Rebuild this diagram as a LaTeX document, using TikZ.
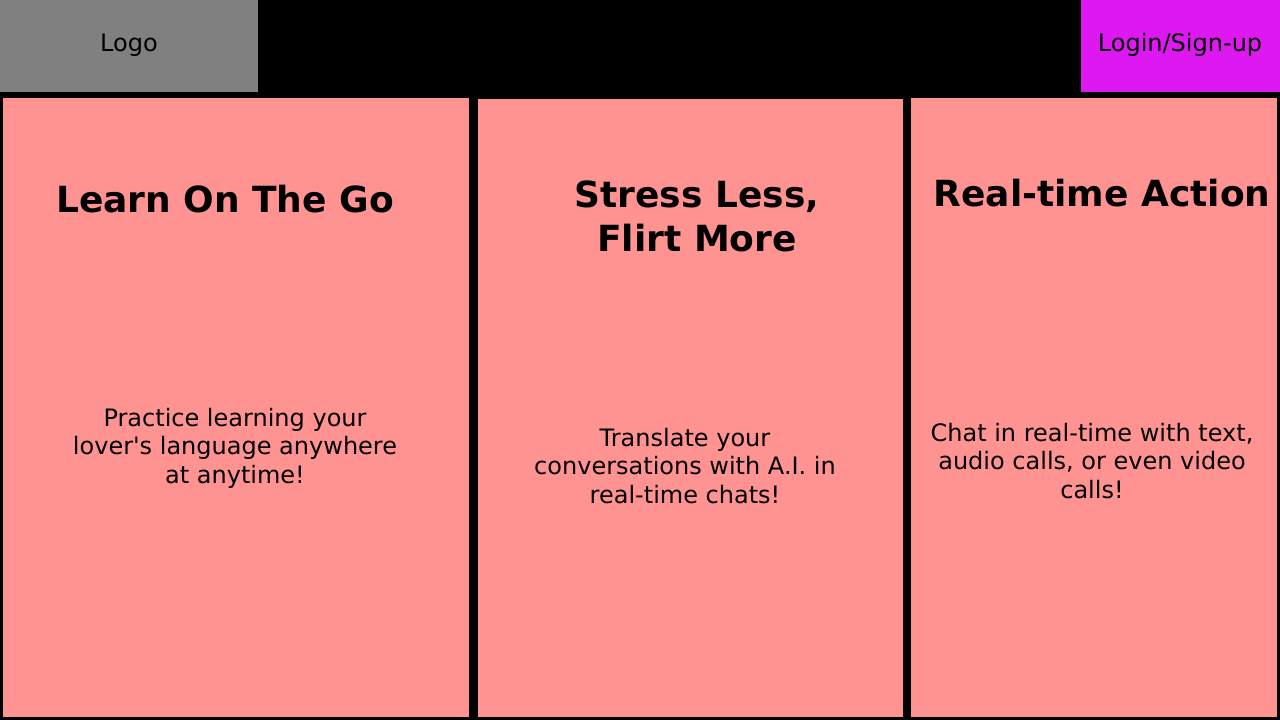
\documentclass[tikz,border=0pt]{standalone}
\usepackage{fontspec}
\setmainfont{DejaVu Sans}
\newfontfamily\dvplain{DejaVu Sans}
\begin{document}
\begin{tikzpicture}[x=1pt,y=-1pt,
  panel/.style={fill=panelpink, draw=none},
  ttl/.style={font=\fontsize{36}{44}\selectfont\bfseries, align=center, inner sep=0pt},
  body/.style={font=\dvplain\fontsize{24}{28.5}\selectfont, align=center, inner sep=0pt},
  top/.style={font=\fontsize{24}{28}\selectfont, inner sep=0pt}]
\definecolor{panelpink}{RGB}{255,147,145}
\definecolor{logogray}{RGB}{128,128,128}
\definecolor{loginmag}{RGB}{221,24,240}
\useasboundingbox (0,0) rectangle (1280,720);
\fill[black] (0,0) rectangle (1280,720);
\fill[logogray] (0,0) rectangle (258,92);
\fill[loginmag] (1081,0) rectangle (1280,92);
\fill[panel] (3,98) rectangle (469,717);
\fill[panel] (478,99) rectangle (903,717);
\fill[panel] (911,98) rectangle (1277,717);
\node[top] (logo) at (129,45) {Logo};
\node[top] (login) at (1180,45) {Login/Sign-up};
\node[ttl] (t1) at (225,199) {Learn On The Go};
\node[ttl] (t2) at (697,216) {Stress Less,\\Flirt More};
\node[ttl] (t3) at (1102,193) {Real-time Action};
\node[body] (b1) at (235,448) {Practice learning your\\lover's language anywhere\\at anytime!};
\node[body] (b2) at (685,466) {Translate your\\conversations with A.I. in\\real-time chats!};
\node[body] (b3) at (1092,461) {Chat in real-time with text,\\audio calls, or even video\\calls!};
\end{tikzpicture}
\end{document}
